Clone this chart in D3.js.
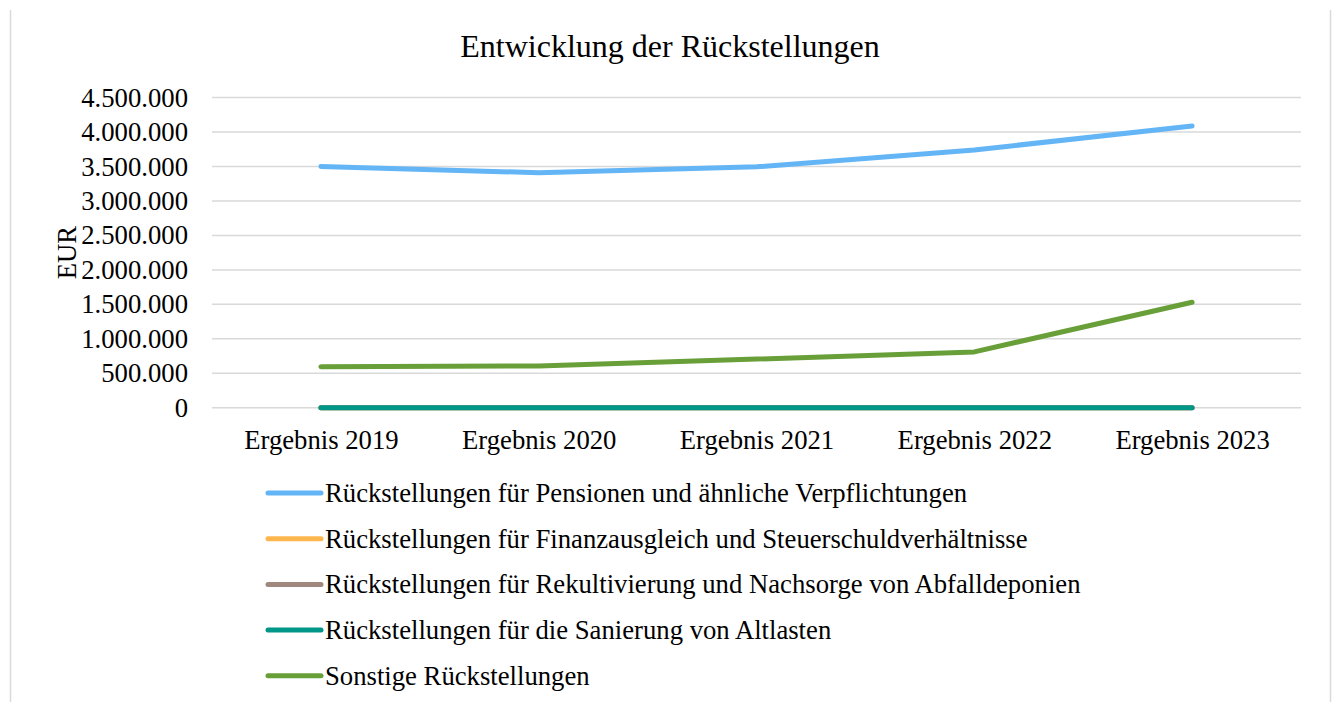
<!DOCTYPE html>
<html>
<head>
<meta charset="utf-8">
<script src="https://cdn.jsdelivr.net/npm/d3@7"></script>
<style>
  html, body { margin: 0; padding: 0; background: #fff; }
  svg { display: block; }
  text { font-family: "Liberation Serif", "Times New Roman", serif; fill: #000; }
</style>
</head>
<body>
<svg id="chart" width="1333" height="702"></svg>
<script>
const title = "Entwicklung der Rückstellungen";
const yAxisLabel = "EUR";
const categories = ["Ergebnis 2019", "Ergebnis 2020", "Ergebnis 2021", "Ergebnis 2022", "Ergebnis 2023"];
const yTicks = [0, 500000, 1000000, 1500000, 2000000, 2500000, 3000000, 3500000, 4000000, 4500000];

const seriesNames = [
  "Rückstellungen für Pensionen und ähnliche Verpflichtungen",
  "Rückstellungen für Finanzausgleich und Steuerschuldverhältnisse",
  "Rückstellungen für Rekultivierung und Nachsorge von Abfalldeponien",
  "Rückstellungen für die Sanierung von Altlasten",
  "Sonstige Rückstellungen"
];
const pensionen = [3500000, 3410000, 3495000, 3740000, 4088000];
const finanzausgleich = [0, 0, 0, 0, 0];
const rekultivierung = [0, 0, 0, 0, 0];
const altlasten = [0, 0, 0, 0, 0];
const sonstige = [595000, 605000, 705000, 810000, 1530000];
const seriesColors = ["#64B5F6", "#FFB74D", "#A1887F", "#009688", "#689F38"];

const seriesValues = [pensionen, finanzausgleich, rekultivierung, altlasten, sonstige];

const svg = d3.select("#chart");
const W = 1333, H = 702;
const margin = { left: 212, right: 32, top: 97.6, bottom: 294.3 };
const plotRight = W - margin.right;
const plotBottom = H - margin.bottom;
const labelSize = "26.7px";
const fontFam = '"Liberation Serif", "Times New Roman", serif';

const locale = d3.formatLocale({ decimal: ",", thousands: ".", grouping: [3], currency: ["", " €"] });
const fmt = locale.format(",.0f");

const x = d3.scalePoint().domain(categories).range([margin.left, plotRight]).padding(0.5);
const y = d3.scaleLinear().domain([0, 4500000]).range([plotBottom, margin.top]);

// frame borders
svg.append("line").attr("x1", 10.5).attr("x2", 10.5).attr("y1", 10).attr("y2", H).attr("stroke", "#d9d9d9").attr("stroke-width", 1.5);
svg.append("line").attr("x1", 1330.5).attr("x2", 1330.5).attr("y1", 10).attr("y2", H).attr("stroke", "#d9d9d9").attr("stroke-width", 1.5);

// title
svg.append("text").attr("x", 670).attr("y", 57).attr("text-anchor", "middle")
  .style("font-size", "32px").text(title);

// gridlines
svg.append("g").selectAll("line").data(yTicks).join("line")
  .attr("x1", margin.left).attr("x2", plotRight)
  .attr("y1", d => y(d)).attr("y2", d => y(d))
  .attr("stroke", "#d9d9d9").attr("stroke-width", 1.5);

// y axis labels
const yAxis = d3.axisLeft(y).tickValues(yTicks).tickFormat(d => fmt(d)).tickSize(0).tickPadding(24);
const gy = svg.append("g").attr("transform", `translate(${margin.left},0)`).call(yAxis);
gy.select(".domain").remove();
gy.selectAll("text").style("font-size", labelSize).style("font-family", fontFam).attr("fill", "#000");

// x axis labels
const xAxis = d3.axisBottom(x).tickSize(0).tickPadding(22);
const gx = svg.append("g").attr("transform", `translate(0,${plotBottom})`).call(xAxis);
gx.select(".domain").remove();
gx.selectAll("text").style("font-size", labelSize).style("font-family", fontFam).attr("fill", "#000");

// y axis title
svg.append("text").attr("transform", `translate(76,${(margin.top + plotBottom) / 2}) rotate(-90)`)
  .attr("text-anchor", "middle").style("font-size", labelSize).text(yAxisLabel);

// lines
const line = d3.line().x((d, i) => x(categories[i])).y(d => y(d));
svg.append("g").selectAll("path").data(seriesValues).join("path")
  .attr("d", d => line(d))
  .attr("fill", "none")
  .attr("stroke", (d, i) => seriesColors[i])
  .attr("stroke-width", 5)
  .attr("stroke-linecap", "round")
  .attr("stroke-linejoin", "round");

// legend
const legendTop = 493, legendStep = 45.7;
const lg = svg.append("g");
seriesNames.forEach((name, i) => {
  const ly = legendTop + i * legendStep;
  lg.append("line").attr("x1", 268).attr("x2", 321).attr("y1", ly).attr("y2", ly)
    .attr("stroke", seriesColors[i]).attr("stroke-width", 5).attr("stroke-linecap", "round");
  lg.append("text").attr("x", 325).attr("y", ly).attr("dy", "0.33em")
    .style("font-size", labelSize).text(name);
});
</script>
</body>
</html>
